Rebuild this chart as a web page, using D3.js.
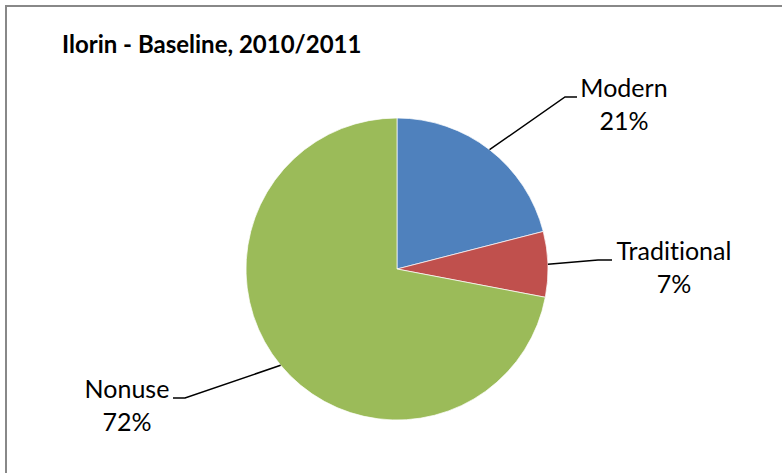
<!DOCTYPE html>
<html lang="en">
<head>
    <meta charset="UTF-8">
    <script src="https://d3js.org/d3.v7.min.js"></script>
    <title>Ilorin - Baseline</title>
    <style>
        body { margin: 0; background: #fff; }
        text {
            font-family: Lato, 'Open Sans', sans-serif;
            font-variant-ligatures: none;
            fill: #000;
        }
        .title { font-size: 24px; font-weight: bold; }
        .lbl { font-size: 25px; text-anchor: middle; }
    </style>
</head>
<body>
<script>
    const width = 782, height = 473;

    const categories = ["Modern", "Traditional", "Nonuse"];
    const values = [21, 7, 72];
    const colors = ["#4F81BD", "#C0504D", "#9BBB59"];

    const cx = 397, cy = 269, r = 151;

    const svg = d3.select("body").append("svg")
            .attr("width", width).attr("height", height);

    // chart frame, only top and left edges show in the crop
    svg.append("rect")
            .attr("x", 6).attr("y", 6)
            .attr("width", width + 20).attr("height", height + 20)
            .attr("fill", "none")
            .attr("stroke", "#888")
            .attr("stroke-width", 2);

    svg.append("text")
            .attr("class", "title")
            .attr("x", 62).attr("y", 53)
            .text("Ilorin - Baseline, 2010/2011");

    const pie = d3.pie().sort(null).value(d => d)(values);
    const arc = d3.arc().innerRadius(0).outerRadius(r);

    const g = svg.append("g").attr("transform", `translate(${cx},${cy})`);

    g.selectAll("path").data(pie).join("path")
            .attr("d", arc)
            .attr("fill", (d, i) => colors[i])
            .attr("stroke", "#fff")
            .attr("stroke-width", 0.7);

    // leader line elbows and label anchors (relative to pie centre)
    const elbows = [[168, -172], [201, -9], [-212, 129]];
    const ends = [[180, -172], [215, -9], [-224, 129]];
    const labelPos = [[227, -172], [277, -9], [-270, 129]];

    pie.forEach((d, i) => {
        const a = (d.startAngle + d.endAngle) / 2;
        const p0 = [r * Math.sin(a), -r * Math.cos(a)];
        g.append("polyline")
                .attr("points", [p0, elbows[i], ends[i]].map(p => p.join(",")).join(" "))
                .attr("fill", "none")
                .attr("stroke", "#000")
                .attr("stroke-width", 1.5);
        const t = g.append("text").attr("class", "lbl")
                .attr("x", labelPos[i][0]).attr("y", labelPos[i][1]);
        t.append("tspan").attr("x", labelPos[i][0]).text(categories[i]);
        t.append("tspan").attr("x", labelPos[i][0]).attr("dy", 33)
                .text(d3.format(".0%")(values[i] / 100));
    });
</script>
</body>
</html>
